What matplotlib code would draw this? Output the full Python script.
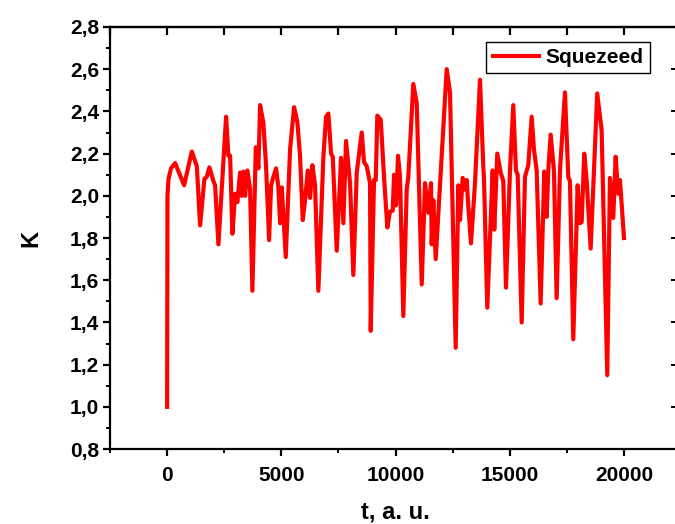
import matplotlib
matplotlib.use("Agg")
import matplotlib.pyplot as plt
from matplotlib.ticker import MultipleLocator, FuncFormatter

plt.rcParams['font.family'] = ['Liberation Sans', 'DejaVu Sans']
plt.rcParams['font.weight'] = 'bold'

# values (t in a.u., K)
t = [0, 15, 60, 170, 350, 744, 1081, 1300, 1444, 1632, 1737, 1851, 2026, 2100,
     2245, 2582, 2682, 2757, 2857, 2976, 3076, 3194, 3269, 3339, 3413, 3514,
     3632, 3733, 3882, 3995, 4070, 4214, 4332, 4464, 4551, 4652, 4770, 4870,
     4945, 5019, 5194, 5382, 5558, 5702, 5820, 5938, 6039, 6157, 6258, 6358,
     6476, 6621, 6840, 6958, 7059, 7177, 7251, 7426, 7614, 7715, 7833, 8008,
     8152, 8301, 8520, 8621, 8739, 8883, 8913, 9058, 9133, 9203, 9352, 9496,
     9640, 9758, 9877, 9934, 10021, 10109, 10196, 10340, 10489, 10559, 10778,
     10927, 11146, 11290, 11434, 11553, 11583, 11654, 11758, 12240, 12384,
     12633, 12747, 12822, 12940, 13041, 13115, 13185, 13303, 13478, 13697,
     13841, 13872, 14016, 14252, 14322, 14454, 14603, 14717, 14835, 15010,
     15154, 15272, 15347, 15522, 15666, 15810, 15959, 16060, 16178, 16353,
     16510, 16616, 16686, 16791, 16935, 17053, 17198, 17417, 17561, 17635,
     17780, 17972, 18073, 18147, 18261, 18366, 18541, 18830, 19023, 19268,
     19386, 19531, 19635, 19749, 19823, 19867, 20000]
K = [1.00, 2.00, 2.08, 2.13, 2.155, 2.05, 2.21, 2.14, 1.86, 2.08, 2.09, 2.135,
     2.07, 2.05, 1.77, 2.375, 2.19, 2.19, 1.82, 2.01, 1.97, 2.11, 2.00, 2.115,
     2.00, 2.12, 2.03, 1.55, 2.23, 2.13, 2.43, 2.345, 2.14, 1.79, 2.05, 2.09,
     2.13, 2.04, 1.87, 2.04, 1.71, 2.22, 2.42, 2.35, 2.185, 1.885, 1.98, 2.12,
     1.99, 2.145, 2.05, 1.55, 2.185, 2.375, 2.39, 2.20, 2.185, 1.74, 2.18, 1.87,
     2.26, 2.06, 1.625, 2.11, 2.30, 2.16, 2.14, 2.06, 1.36, 2.075, 2.075, 2.38,
     2.36, 2.09, 1.85, 1.925, 1.93, 2.10, 1.955, 2.19, 2.09, 1.43, 2.03, 2.09,
     2.53, 2.44, 1.58, 2.06, 1.92, 2.06, 1.77, 1.98, 1.70, 2.60, 2.49, 1.28,
     2.05, 1.885, 2.085, 2.03, 2.075, 1.95, 1.775, 2.06, 2.55, 2.14, 2.08, 1.47,
     2.12, 1.84, 2.20, 2.11, 2.07, 1.565, 2.12, 2.43, 2.12, 2.10, 1.40, 2.09,
     2.145, 2.375, 2.22, 2.12, 1.49, 2.115, 1.90, 2.12, 2.29, 2.12, 1.515, 2.12,
     2.49, 2.09, 2.07, 1.32, 2.05, 1.87, 1.875, 2.20, 2.075, 1.75, 2.485, 2.31,
     1.15, 2.085, 1.895, 2.185, 2.01, 2.075, 2.01, 1.80]

fig = plt.figure(figsize=(6.75, 5.24), dpi=100)
ax = fig.add_axes([0.163, 0.143, 0.846, 0.8055])

ax.plot(t, K, color='#ff0000', lw=3.0, solid_joinstyle='round', label='Squezeed')

ax.set_xlim(-2500, 22500)
ax.set_ylim(0.8, 2.8)
ax.xaxis.set_major_locator(MultipleLocator(5000))
ax.xaxis.set_minor_locator(MultipleLocator(2500))
ax.yaxis.set_major_locator(MultipleLocator(0.2))
ax.yaxis.set_minor_locator(MultipleLocator(0.1))
ax.yaxis.set_major_formatter(FuncFormatter(lambda v, p: f"{v:.1f}".replace('.', ',')))

for s in ax.spines.values():
    s.set_linewidth(1.6)
ax.tick_params(which='major', direction='out', length=5, width=1.6, labelsize=15, pad=3)
ax.tick_params(which='minor', direction='out', length=3, width=1.4)
ax.tick_params(axis='x', which='major', pad=7)
for lab in ax.get_xticklabels() + ax.get_yticklabels():
    lab.set_fontweight('bold')

top = ax.secondary_xaxis('top')
top.xaxis.set_major_locator(MultipleLocator(2500))
top.tick_params(direction='in', length=6, width=1.6, labeltop=False)
top.spines['top'].set_linewidth(1.6)
right = ax.secondary_yaxis('right')
right.yaxis.set_major_locator(MultipleLocator(0.2))
right.tick_params(direction='in', length=7, width=1.4, labelright=False)

ax.set_xlabel('t, a. u.', fontsize=17, fontweight='bold', labelpad=11)
ax.set_ylabel('K', fontsize=17, fontweight='bold', labelpad=20)

leg = ax.legend(loc='upper right', bbox_to_anchor=(0.9457, 0.9645), borderaxespad=0,
                fancybox=False, framealpha=1, edgecolor='black',
                prop={'weight': 'bold', 'size': 15}, handlelength=2.2,
                handletextpad=0.35, borderpad=0.3)
leg.get_frame().set_linewidth(1.0)

fig.savefig('out.png', dpi=100)
